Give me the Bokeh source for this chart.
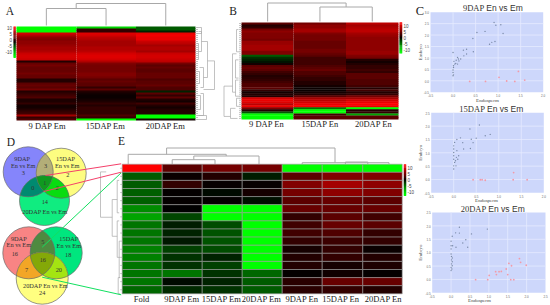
import numpy as np
from bokeh.plotting import figure
from bokeh.models import Range1d, LinearColorMapper, ColumnDataSource
from bokeh.core.properties import value
from bokeh.embed import file_html
from bokeh.resources import INLINE

# ---------- heat map values (log2 fold, -10 green .. 0 black .. +10 red) ----------
A_9em = [-10,-10,-10,8,6.5,5,4.5,5,5,5.5,6,6,6.5,7.5,8,8,7.5,1,3.5,4,3.5,3.5,3.5,4,3.5,3.5,1,1,3,3.5,3,4,1,1.5,2,2.5,.8,.8,1.5,.5,.5,1,1.5,2,6,1.5,2.5]
A_15em = [-8,1.5,1.5,8.5,8,7,6.5,6,6,6,6.5,6.5,7,8,8.5,8.5,8,6.5,4.5,4,4,4,4,4.5,4.5,4,3,3.5,3,3,1.5,3,1,.5,.3,.3,.5,.8,1.5,1,1.5,1.5,1.5,1.5,2.5,1.5,-10]
A_20em = [-3,-3,-1,9,9.5,9,9,7.5,7,6,6.5,6.5,6,7.5,8,8,7.5,7,4,3,3.5,3,3,3.5,3.5,3.5,2.5,3,3,3.5,2.5,2.5,-1,3,1.5,3,1,.5,2,1,.5,1,1,1,-10,-10,.5]
B_9en = [3,1,1.5,4,5,4.5,4.5,4.5,4,5.5,5.5,6,6,6,4.5,4.5,-3,-1.5,-1,-.5,.5,3,3.5,3,2,1.5,1,1.2,1.5,2,2.5,2.5,3,1.5,.5,1,1,8,9,8.5,7,9,4.5,1,-3,-10,-10,-10]
B_15en = [4,5,5,6,6,4.5,4,4,4,3.5,3.5,3.5,3.5,4,4,3.5,3,2,2,2,2,2.5,3,3.5,2.5,2.5,2,1.5,1.5,1,1,.5,.3,.3,.5,1,3,6,7,8,9,9.5,-4,-10,-10,2,3,3]
B_20en = [7,6,6.5,7,7,6,5.5,5,5,5,5,5,5,5,5.5,5.5,4.5,4,1,.5,1,1.5,1.5,2,1.5,3,3,3,2.5,2.5,2.5,2,1,2,1,1.5,4,6,8,9,10,9,-10,1,1.5,-6,3,3]
E_fold = [10,-3,-3,-3.2,-3.2,-5,-6,-4,-4,-4,-4.5,-4.5,-4,-4,-4,-3.5]
E_9em = [3,.3,1.5,.1,.1,0,-2.2,-.8,-1,-.7,-2,-1.5,-1.5,-4,-.3,-1.2]
E_15em = [4,1,.2,-.3,.1,-10,-10,-2.5,-2.7,-2.7,-2.5,-1,-2,-1.5,-1,-1.5]
E_20em = [4,-.8,.2,.6,-.4,-10,-10,-10,-10,-10,-10,-10,-10,-3.5,-3,-3]
E_9en = [-10,3,4.5,4,3,3.5,1.5,2,2,1.5,.6,1,1,.1,1.2,1.2]
E_15en = [-10,4.5,6,5,3.5,3.5,3,3.5,2.5,1.8,1.5,1.5,.6,.4,3.5,1.5]
E_20en = [-10,4.5,5,4.5,3,3.5,2,3,1.5,1.5,.3,1,.8,.1,3.5,1]
A_labels = ["9 DAP Em","15DAP Em","20DAP Em"]
B_labels = ["9 DAP En","15DAP En","20DAP En"]
E_labels = ["Fold","9DAP Em","15DAP Em","20DAP Em","9DAP En","15DAP En","20DAP En"]
scale_labels = ["10","5","0","-5","-10"]

# ---------- scatter values (Endosperm, Embryo) ----------
c1_blue_x = [.91,.95,1.06,1.11,.53,.71,.44,.81,.86,.93,0,.45,.30,.23,.30,.24,.17,.12,.10,.07,.06,.02,.04,.01,.01,0,0,.01,0,.10,.13]
c1_blue_y = [2.55,2.43,2.45,2.07,2.11,2.16,1.85,1.60,1.68,1.72,1.24,1.27,1.38,1.34,1.17,1.09,.95,.95,1.02,.90,.76,.85,.73,.66,.58,.47,.36,.26,.22,.73,.87]
c1_red_x = [1.45,1.59,1.02,.37,.72,1.19,1.37]
c1_red_y = [.41,.03,.15,-.03,-.03,-.01,-.03]
c2_blue_x = [.57,.36,.15,.07,.5,.39,.7,.81,.43,.2,.02,0,0,.37,.22,.07,0,.11,0,0,.06,.09,.02,0,.05,0,.04]
c2_blue_y = [2.04,1.89,1.56,1.5,1.55,1.51,1.64,1.69,1.38,1.38,1.39,1.26,1.14,1.16,1.14,1.08,1.01,.89,.89,.76,.83,.76,.64,.51,.51,.39,.7]
c2_red_x = [1.33,.43,.59,.63,.7,1.32,1.63]
c2_red_y = [.26,-.01,-.01,-.01,-.03,-.01,-.01]
c3_blue_x = [.22,.12,.22,.54,.96,.03,.39,.31,0,.04,.44,.13,0,0,0,.01,.03,.01,.03,.01,.03,0,.02,0]
c3_blue_y = [1.95,1.74,1.73,1.7,1.88,1.61,1.48,1.36,1.43,1.26,1.2,1.2,1.26,1.14,.95,.86,.8,.73,.66,.58,.51,.45,.39,.33]
c3_red_x = [1.81,1.84,1.99,1.53,1.6,1.46,1.5,1.33,1.27,1.18,1.2,1.01,.65,.97,1.58,1.66]
c3_red_y = [.78,.64,.53,.6,.51,.39,.18,.3,.29,.29,.18,.15,-.01,-.01,-.01,-.01]
c_titles = ["9DAP","15DAP","20DAP"]

# ---------- Venn counts ----------
venn_top = ["3","2","14","3","0","2","1"]
venn_bottom = ["16","18","24","5","7","20","16"]

# ---------- dendrograms: (position a, position b, height, height under a, height under b) ----------
A_col_tree = [(.5,1.5,17,0,0),(1.0,2.5,22,17,0)]
B_col_tree = [(1.5,2.5,14.5,0,0),(.5,2.0,18.5,0,14.5)]
E_col_tree = [(1.25,2.32,4.3,0,0),(1.79,3.42,8,4.3,0),(.15,2.6,9.7,0,8),(1.11,5.32,16,9.7,1.5),(4.5,6.67,1.3,0,0),(5.58,6.14,2,0,0)]
A_row_tree = [(16.7,31,19,12,8),(7,25,12,6,8),(2,12,6,3,3),(20,30,8,4,5),(33,44,8,5,3),(0,3,6,2,2),(44,46,11,2,2),(8,16,3,1.5,1.5),(22,28,4,2,2),(34,41,5,2,2)]
B_row_tree = [(31,46,17.5,9,11),(15,34,9,5,6),(3,14,5,3,2),(18,27,6,3,3),(28,36,6,3,2),(42,47,11,6,4),(37,41,5,2,2)]
E_row_tree = [(.45,6.05,21.7,16,10),(3.86,8.4,10,5,5),(1.5,5.5,5,3,3),(6.5,11,5,3,2),(9,13.5,3,2,2),(13.5,15.5,4,2,2)]

# ---------- canvas in the reference's pixel space ----------
p = figure(width=550, height=305, x_range=Range1d(0,550), y_range=Range1d(305,0),
           toolbar_location=None, output_backend="svg", min_border=0, margin=0)
p.axis.visible = False
p.grid.visible = False
p.outline_line_color = None

GAMMA = 0.85
palette = ["#%02x%02x%02x" % (0, int(255*(1-i/127)**GAMMA), 0) for i in range(128)] + \
          ["#%02x%02x%02x" % (int(255*(i/127)**GAMMA), 0, 0) for i in range(128)]
mapper = LinearColorMapper(palette=palette, low=-10, high=10)

SERIF = value("Liberation Serif")
SANS = value("Liberation Sans")
GREY = "#a8a8a8"

def txt(x, y, s, size, font=SERIF, align="center", color="#222222"):
    p.text([x],[y],text=[s],text_font=font,text_font_size=f"{size}px",text_align=align,
           text_baseline="middle",text_color=color)

def heat(cols, x_edges, y0, rh, line=None):
    L,R,T,B,V = [],[],[],[],[]
    n=len(cols[0])
    for j,c in enumerate(cols):
        for i,v in enumerate(c):
            L.append(x_edges[j]); R.append(x_edges[j+1]); T.append(y0+i*rh)
            B.append(y0+(i+1)*rh+(0 if line or i==n-1 else .45)); V.append(v)
    src = ColumnDataSource(dict(l=L,r=R,t=T,b=B,v=V))
    p.quad(left="l",right="r",top="t",bottom="b",fill_color={"field":"v","transform":mapper},
           line_color=line,line_width=0.6,source=src)

def scale_bar(x0,x1,y0,y1,label_x,label_ys,align):
    vals = list(np.linspace(10,-10,32))
    h=(y1-y0)/len(vals)
    src = ColumnDataSource(dict(l=[x0]*len(vals),r=[x1]*len(vals),t=[y0+i*h for i in range(len(vals))],
                                b=[y0+(i+1)*h+.4 for i in range(len(vals))],v=vals))
    p.quad(left="l",right="r",top="t",bottom="b",fill_color={"field":"v","transform":mapper},line_color=None,source=src)
    for s,y in zip(scale_labels,label_ys):
        txt(label_x,y,s,4.5,font=SANS,align=align,color="#444444")

def col_tree(links, x0, colw, base, color=GREY):
    xs,ys=[],[]
    for a,b,h,ha,hb in links:
        xa,xb=x0+a*colw,x0+b*colw
        xs.append([xa,xa,xb,xb]); ys.append([base-ha,base-h,base-h,base-hb])
    p.multi_line(xs,ys,line_color=color,line_width=1)

def row_tree(links, edge, sign, y0, rh, nrows, leaf=2.5):
    xs,ys=[],[]
    for a,b,d,da,db in links:
        ya,yb=y0+(a+.5)*rh,y0+(b+.5)*rh
        xs.append([edge+sign*da,edge+sign*d,edge+sign*d,edge+sign*db]); ys.append([ya,ya,yb,yb])
    for i in range(nrows):
        xs.append([edge,edge+sign*leaf]); ys.append([y0+(i+.5)*rh]*2)
    p.multi_line(xs,ys,line_color=GREY,line_width=0.7)

# ---------- Panel A ----------
heat([A_9em,A_15em,A_20em],[16,76,135.5,195],26,2.0)
col_tree(A_col_tree,16,59.7,25)
row_tree(A_row_tree,195,1,26,2.0,47)
scale_bar(13,15.3,26,57,11.5,[27,33,39,45,51],"right")
for s,x in zip(A_labels,[46.7,105,165]):
    txt(x,125.5,s,8.5)
txt(9.5,10.5,"A",11.5)

# ---------- Panel B ----------
heat([B_9en,B_15en,B_20en],[241,293,345.5,398],22,2.02)
col_tree(B_col_tree,241,52.3,21)
row_tree(B_row_tree,241,-1,22,2.02,48)
scale_bar(399,401.7,21.7,52.7,403,[25,31,37,43,49],"left")
for s,x in zip(B_labels,[266,319.5,373]):
    txt(x,123.5,s,8.5)
txt(232.5,10,"B",11.5)

# ---------- Panel C ----------
txt(419.5,10,"C",12.5)
panels = [
  dict(x0=430,x1=542.7,y0=11.7,y1=91.7,xt=[-.5,0,.5,1,1.5,2],yt=[-.5,0,.5,1,1.5,2,2.5,3],
       bx=c1_blue_x,by=c1_blue_y,rx=c1_red_x,ry=c1_red_y,t=c_titles[0],ty=7.5,lx=475,ly=100),
  dict(x0=430.7,x1=543.3,y0=112.3,y1=192.3,xt=[-.5,0,.5,1,1.5,2],yt=[-.5,0,.5,1,1.5,2,2.5],
       bx=c2_blue_x,by=c2_blue_y,rx=c2_red_x,ry=c2_red_y,t=c_titles[1],ty=108,lx=474,ly=200),
  dict(x0=431.7,x1=545,y0=212,y1=292.3,xt=[-.5,0,.5,1,1.5,2,2.5],yt=[-.5,0,.5,1,1.5,2,2.5],
       bx=c3_blue_x,by=c3_blue_y,rx=c3_red_x,ry=c3_red_y,t=c_titles[2],ty=208.5,lx=467,ly=300),
]
for P in panels:
    xl,xh,yl,yh = P["xt"][0],P["xt"][-1],P["yt"][0],P["yt"][-1]
    fx=lambda v,P=P,xl=xl,xh=xh: P["x0"]+(np.asarray(v,float)-xl)/(xh-xl)*(P["x1"]-P["x0"])
    fy=lambda v,P=P,yl=yl,yh=yh: P["y1"]-(np.asarray(v,float)-yl)/(yh-yl)*(P["y1"]-P["y0"])
    p.quad(left=[P["x0"]],right=[P["x1"]],top=[P["y0"]],bottom=[P["y1"]],fill_color="#cdd7fb",line_color=None)
    p.multi_line([[fx(t),fx(t)] for t in P["xt"][1:-1]]+[[P["x0"],P["x1"]] for t in P["yt"][1:-1]],
                 [[P["y0"],P["y1"]] for t in P["xt"][1:-1]]+[[fy(t),fy(t)] for t in P["yt"][1:-1]],
                 line_color="#e6ebff",line_width=0.8)
    p.scatter(fx(P["bx"]),fy(P["by"]),size=1.4,marker="circle",fill_color="#7a8aa8",line_color=None)
    p.scatter(fx(P["rx"]),fy(P["ry"]),size=1.8,marker="circle",fill_color="#f39aa8",line_color=None)
    for t in P["xt"]:
        txt(float(fx(t)),P["y1"]+3.5,f"{t:.1f}",3,font=SANS,color="#666666")
    for t in P["yt"]:
        txt(P["x0"]-1.5,float(fy(t)),f"{t:.1f}",3,font=SANS,align="right",color="#666666")
    txt(P["lx"]+12,P["ly"],"Endosperm",5,color="#444444")
    p.text([420],[(P["y0"]+P["y1"])/2],text=["Embryo"],angle=[np.pi/2],text_font=SERIF,text_font_size="5px",
           text_align="center",text_baseline="middle",text_color="#444444")
    cx=(P["x0"]+P["x1"])/2+0.5
    p.text([cx-1],[P["ty"]],text=[P["t"]+" "],text_font=SERIF,text_font_size="8.5px",text_align="right",
           text_baseline="middle",text_color="#333333")
    p.text([cx-1],[P["ty"]],text=[" En vs Em"],text_font=SANS,text_font_size="8.5px",text_align="left",
           text_baseline="middle",text_color="#333333")

# ---------- Panel D (Venn regions) ----------
def lens(*circles):
    pts=[]
    th=np.linspace(0,2*np.pi,361)
    for i,(cx,cy,r) in enumerate(circles):
        X,Y=cx+r*np.cos(th),cy+r*np.sin(th)
        ok=np.ones_like(X,bool)
        for j,(ox,oy,orr) in enumerate(circles):
            if j!=i: ok&=(X-ox)**2+(Y-oy)**2<=orr**2
        pts.append(np.c_[X[ok],Y[ok]])
    pts=np.vstack(pts); c=pts.mean(0)
    o=np.argsort(np.arctan2(pts[:,1]-c[1],pts[:,0]-c[0]))
    return list(pts[o,0]),list(pts[o,1])

def venn(c1,c2,c3,cols):
    for c,col in zip((c1,c2,c3),cols[:3]):
        p.circle([c[0]],[c[1]],radius=c[2],fill_color=col,line_color=None)
    for grp,col in zip(((c1,c2),(c1,c3),(c2,c3),(c1,c2,c3)),cols[3:]):
        X,Y=lens(*grp); p.patch(X,Y,fill_color=col,line_color=None)
    for c in (c1,c2,c3):
        p.circle([c[0]],[c[1]],radius=c[2],fill_color=None,line_color="#6a6a6a",line_width=0.7)

venn((27.7,171.3,25),(60.7,172.7,25),(44,200,25),
     ["#8585fb","#fdfd80","#10ec80","#b3ae78","#008a70","#08dc10","#109a20"])
venn((28.3,252.3,26),(55.7,252.3,26),(41.7,277.7,26),
     ["#f88484","#00e67e","#ffff80","#4f8a40","#f2a626","#a4e412","#84a808"])
FS=6.3
txt(10.5,141,"D",11.5)
for x,y,s in [(21.7,157.7,"9DAP"),(22.7,165,"En vs Em"),(65,158.3,"15DAP"),(66.7,165,"En vs Em"),(44.3,211,"20DAP En vs Em"),
              (18.3,238.3,"9DAP"),(18.3,244.3,"En vs Em"),(68.3,238.3,"15DAP"),(68.3,245,"En vs Em"),(45,285,"20DAP En vs Em")]:
    txt(x,y,s,FS,color="#333333")
for (x,y),s in zip([(22.7,172.3),(67.3,174),(44.3,201.7),(45,165.7),(32.3,187.3),(56.7,187.3),(44.3,182.3)],venn_top):
    txt(x,y,s,FS,color="#333333")
for (x,y),s in zip([(14.3,253.3),(67.7,254),(41.7,292.3),(42.3,241.7),(26,269),(58.3,269),(42.3,259.7)],venn_bottom):
    txt(x,y,s,FS,color="#333333")

# ---------- Panel E ----------
E_edges=[121.7,161.7,201.7,241.7,281.7,321.7,362.3,401.7]
heat([E_fold,E_9em,E_15em,E_20em,E_9en,E_15en,E_20en],E_edges,163.7,8.1,line="#9a9a9a")
col_tree(E_col_tree,121.7,40,163.5)
row_tree(E_row_tree,121.7,-1,163.7,8.1,16,leaf=2)
scale_bar(403.3,405.7,163.7,195,407,[167,173,179,185,191],"left")
for s,x in zip(E_labels,[141,181.3,221,261,301.3,340.3,382.7]):
    txt(x,298.5,s,8.5)
txt(121,140.5,"E",11.5)

# connector lines between the Venn regions and the table
p.multi_line([[45,120.7],[43.3,120.7]],[[175,163.3],[191,171.7]],line_color="#f4406a",line_width=1)
p.multi_line([[41.7,120.7],[41.7,120.7]],[[246.7,172.3],[276.7,294.3]],line_color="#12e060",line_width=1)

open("out.html","w").write(file_html(p,INLINE))
